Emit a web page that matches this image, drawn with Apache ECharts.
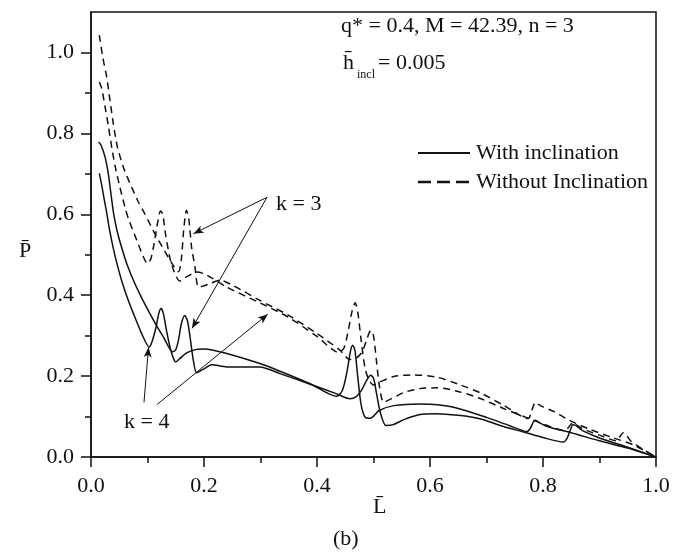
<!DOCTYPE html>
<html>
<head>
<meta charset="utf-8">
<script src="https://cdn.jsdelivr.net/npm/echarts@6/dist/echarts.min.js"></script>
<style>
  html, body { margin: 0; padding: 0; background: #fff; }
  #chart { width: 685px; height: 555px; }
</style>
</head>
<body>
<div id="chart"></div>
<script>
const FONT = '"Liberation Serif", "DejaVu Serif", serif';
const INK = '#111';

// tick values
const yTicks = [0, 0.2, 0.4, 0.6, 0.8, 1.0];
const yMinorTicks = [0.1, 0.3, 0.5, 0.7, 0.9];

// with inclination, first peak near 0.12 (starts at 0.70)
const solidA = [
  [0.0147, 0.701], [0.019, 0.672], [0.023, 0.640], [0.028, 0.602], [0.033, 0.560],
  [0.039, 0.519], [0.046, 0.478], [0.054, 0.437], [0.064, 0.395], [0.075, 0.355],
  [0.0897, 0.305], [0.103, 0.272], [0.108, 0.285], [0.115, 0.32], [0.120, 0.355],
  [0.124, 0.367], [0.128, 0.355], [0.134, 0.31], [0.141, 0.265], [0.147, 0.24],
  [0.150, 0.235], [0.157, 0.243], [0.170, 0.258], [0.187, 0.266], [0.200, 0.267],
  [0.240, 0.256], [0.299, 0.231], [0.3345, 0.212], [0.388, 0.181], [0.435, 0.150],
  [0.445, 0.165], [0.453, 0.21], [0.459, 0.26], [0.463, 0.276], [0.467, 0.265],
  [0.472, 0.2], [0.478, 0.13], [0.485, 0.099], [0.495, 0.096], [0.51, 0.115],
  [0.536, 0.127], [0.582, 0.131], [0.613, 0.129], [0.65, 0.12], [0.70, 0.098],
  [0.74, 0.078], [0.772, 0.063], [0.778, 0.072], [0.783, 0.087], [0.787, 0.091],
  [0.793, 0.085], [0.81, 0.074], [0.85, 0.06], [0.9, 0.04], [0.95, 0.022], [1.0, 0.0]
];

// with inclination, first peak near 0.17 (starts at 0.78)
const solidB = [
  [0.0136, 0.779], [0.018, 0.770], [0.0248, 0.742], [0.0306, 0.701], [0.0349, 0.655],
  [0.040, 0.602], [0.046, 0.560], [0.054, 0.519], [0.064, 0.475], [0.075, 0.437],
  [0.089, 0.395], [0.104, 0.355], [0.116, 0.325], [0.128, 0.297], [0.1445, 0.26],
  [0.150, 0.265], [0.155, 0.29], [0.160, 0.33], [0.166, 0.350], [0.171, 0.335],
  [0.176, 0.29], [0.181, 0.24], [0.187, 0.208], [0.20, 0.218], [0.2136, 0.228],
  [0.240, 0.2225], [0.299, 0.2225], [0.3345, 0.206], [0.388, 0.180], [0.435, 0.156],
  [0.458, 0.144], [0.470, 0.150], [0.480, 0.168], [0.488, 0.19], [0.495, 0.202],
  [0.50, 0.195], [0.505, 0.16], [0.512, 0.11], [0.522, 0.078], [0.535, 0.080],
  [0.555, 0.093], [0.582, 0.105], [0.61, 0.107], [0.65, 0.103], [0.69, 0.094],
  [0.724, 0.078], [0.77, 0.060], [0.80, 0.048], [0.836, 0.037], [0.842, 0.045],
  [0.848, 0.065], [0.853, 0.080], [0.858, 0.078], [0.87, 0.065], [0.9, 0.047],
  [0.95, 0.024], [1.0, 0.0]
];

// without inclination, first peak near 0.12 (starts at 0.93)
const dashedA = [
  [0.0147, 0.927], [0.019, 0.911], [0.025, 0.865], [0.031, 0.816], [0.037, 0.763],
  [0.043, 0.717], [0.051, 0.668], [0.060, 0.618], [0.066, 0.590], [0.081, 0.536],
  [0.092, 0.497], [0.100, 0.478], [0.106, 0.49], [0.112, 0.53], [0.118, 0.58],
  [0.123, 0.608], [0.127, 0.60], [0.132, 0.55], [0.140, 0.49], [0.148, 0.455],
  [0.157, 0.435], [0.165, 0.442], [0.178, 0.452], [0.187, 0.457], [0.20, 0.453],
  [0.216, 0.441], [0.240, 0.420], [0.299, 0.381], [0.35, 0.345], [0.40, 0.298],
  [0.439, 0.258], [0.448, 0.27], [0.455, 0.31], [0.462, 0.36], [0.4675, 0.381],
  [0.472, 0.36], [0.478, 0.29], [0.485, 0.22], [0.492, 0.19], [0.50, 0.178],
  [0.51, 0.185], [0.536, 0.199], [0.57, 0.203], [0.613, 0.197], [0.65, 0.18],
  [0.69, 0.158], [0.73, 0.128], [0.774, 0.095], [0.779, 0.11], [0.784, 0.13],
  [0.787, 0.136], [0.792, 0.13], [0.80, 0.124], [0.82, 0.112], [0.845, 0.092],
  [0.88, 0.07], [0.923, 0.048], [0.96, 0.03], [1.0, 0.0]
];

// without inclination, first peak near 0.17 (starts at 1.04)
const dashedB = [
  [0.0147, 1.043], [0.0207, 0.989], [0.0277, 0.940], [0.0336, 0.882], [0.0395, 0.824],
  [0.0466, 0.767], [0.0572, 0.717], [0.069, 0.676], [0.0837, 0.631], [0.0956, 0.600],
  [0.113, 0.552], [0.13, 0.51], [0.145, 0.475], [0.155, 0.458], [0.160, 0.49],
  [0.164, 0.56], [0.169, 0.61], [0.173, 0.59], [0.178, 0.519], [0.184, 0.47],
  [0.190, 0.42], [0.20, 0.423], [0.211, 0.429], [0.228, 0.437], [0.25, 0.425],
  [0.299, 0.387], [0.35, 0.35], [0.40, 0.305], [0.44, 0.265], [0.458, 0.241],
  [0.47, 0.245], [0.48, 0.26], [0.488, 0.29], [0.495, 0.313], [0.50, 0.30],
  [0.505, 0.24], [0.511, 0.17], [0.518, 0.135], [0.53, 0.143], [0.555, 0.16],
  [0.582, 0.169], [0.613, 0.171], [0.65, 0.162], [0.69, 0.144], [0.73, 0.12],
  [0.77, 0.098], [0.80, 0.082], [0.835, 0.066], [0.843, 0.07], [0.849, 0.08],
  [0.853, 0.085], [0.858, 0.08], [0.87, 0.07], [0.90, 0.054], [0.93, 0.04],
  [0.936, 0.05], [0.942, 0.06], [0.947, 0.055], [0.955, 0.04], [0.97, 0.025],
  [1.0, 0.0]
];

// annotation arrows: [from, to] in data units
const arrowsK3 = [
  [[0.3115, 0.642], [0.1814, 0.552]],
  [[0.3115, 0.642], [0.1788, 0.318]]
];
const arrowsK4 = [
  [[0.0938, 0.135], [0.1018, 0.271]],
  [[0.117, 0.130], [0.313, 0.353]]
];

const chart = echarts.init(document.getElementById('chart'));

function lineSeries(name, data, dashed) {
  return {
    name: name,
    type: 'line',
    data: data,
    showSymbol: false,
    symbol: 'none',
    smooth: 0.25,
    silent: true,
    lineStyle: { color: INK, width: 1.5, type: dashed ? [7, 5] : 'solid' },
    itemStyle: { color: INK },
    emphasis: { disabled: true },
    z: 3
  };
}

const arrowSeries = {
  type: 'line',
  data: [],
  silent: true,
  markLine: {
    silent: true,
    animation: false,
    symbol: ['none', 'arrow'],
    symbolSize: [6, 10],
    label: { show: false },
    lineStyle: { color: INK, width: 1, type: 'solid' },
    emphasis: { disabled: true },
    data: arrowsK3.concat(arrowsK4).map(a => [{ coord: a[0] }, { coord: a[1] }])
  }
};

const axisLineStyle = { color: INK, width: 1.5 };

chart.setOption({
  animation: false,
  backgroundColor: '#fff',
  grid: {
    left: 91, right: 29, top: 12, bottom: 98,
    show: true, borderColor: INK, borderWidth: 1.5, backgroundColor: 'transparent'
  },
  xAxis: {
    type: 'value', min: 0, max: 1, interval: 0.2,
    axisLine: { show: true, lineStyle: axisLineStyle },
    axisTick: { show: true, length: 10, lineStyle: axisLineStyle },
    minorTick: { show: true, splitNumber: 2, length: 6, lineStyle: axisLineStyle },
    splitLine: { show: false },
    axisLabel: {
      margin: 18, fontFamily: FONT, fontSize: 22, color: INK,
      formatter: v => v.toFixed(1)
    }
  },
  yAxis: [
    {
      type: 'value', min: 0, max: 1.1,
      axisLine: { show: true, lineStyle: axisLineStyle },
      axisTick: { show: true, length: 10, lineStyle: axisLineStyle, customValues: yTicks },
      splitLine: { show: false },
      axisLabel: {
        margin: 17, fontFamily: FONT, fontSize: 22, color: INK,
        customValues: yTicks,
        formatter: v => v.toFixed(1)
      }
    },
    {
      type: 'value', min: 0, max: 1.1, position: 'left',
      axisLine: { show: false },
      axisTick: { show: true, length: 6, lineStyle: axisLineStyle, customValues: yMinorTicks },
      axisLabel: { show: false },
      splitLine: { show: false }
    }
  ],
  series: [
    lineSeries('With inclination', solidA, false),
    lineSeries('With inclination', solidB, false),
    lineSeries('Without Inclination', dashedA, true),
    lineSeries('Without Inclination', dashedB, true),
    arrowSeries
  ],
  graphic: [
    // legend
    { type: 'line', silent: true, shape: { x1: 418, y1: 153, x2: 470, y2: 153 },
      style: { stroke: INK, lineWidth: 2.2 } },
    { type: 'line', silent: true, shape: { x1: 418, y1: 182, x2: 470, y2: 182 },
      style: { stroke: INK, lineWidth: 2.6, lineDash: [13, 6] } },
    { type: 'text', left: 476, top: 142, silent: true,
      style: { text: 'With inclination', font: '22px ' + FONT, fill: INK } },
    { type: 'text', left: 476, top: 171, silent: true,
      style: { text: 'Without Inclination', font: '22px ' + FONT, fill: INK } },
    // parameters
    { type: 'text', left: 341, top: 15, silent: true,
      style: { text: 'q* = 0.4, M = 42.39, n = 3', font: '22px ' + FONT, fill: INK } },
    { type: 'text', left: 343, top: 52, silent: true,
      style: { text: 'h\u0304', font: '22px ' + FONT, fill: INK } },
    { type: 'text', left: 357, top: 69, silent: true,
      style: { text: 'incl', font: '12px ' + FONT, fill: INK } },
    { type: 'text', left: 378, top: 52, silent: true,
      style: { text: '= 0.005', font: '22px ' + FONT, fill: INK } },
    // curve labels
    { type: 'text', left: 276, top: 193, silent: true,
      style: { text: 'k = 3', font: '22px ' + FONT, fill: INK } },
    { type: 'text', left: 124, top: 411, silent: true,
      style: { text: 'k = 4', font: '22px ' + FONT, fill: INK } },
    // axis names and caption
    { type: 'text', left: 19, top: 240, silent: true,
      style: { text: 'P\u0304', font: '22px ' + FONT, fill: INK } },
    { type: 'text', left: 373, top: 496, silent: true,
      style: { text: 'L\u0304', font: '22px ' + FONT, fill: INK } },
    { type: 'text', left: 333, top: 528, silent: true,
      style: { text: '(b)', font: '22px ' + FONT, fill: INK } }
  ]
});
</script>
</body>
</html>
